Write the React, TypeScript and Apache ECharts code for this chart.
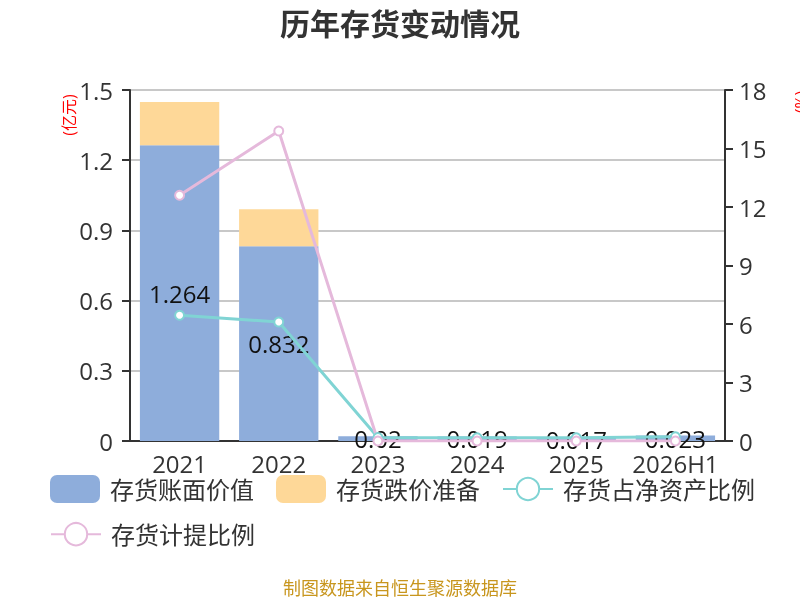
import { useEffect, useRef } from 'react';
import * as echarts from 'echarts';

const years = ['2021', '2022', '2023', '2024', '2025', '2026H1'];
// 亿元
const bookValue = [1.264, 0.832, 0.02, 0.019, 0.017, 0.023];
const provision = [0.185, 0.158, 0, 0, 0, 0];
// %
const netAssetRatio = [6.45, 6.1, 0.18, 0.17, 0.17, 0.22];
const provisionRatio = [12.6, 15.9, 0, 0, 0, 0];

const FONT = '"Open Sans", "Noto Sans CJK SC", sans-serif';
const TEXT = '#333';

export default function App() {
  const ref = useRef<HTMLDivElement | null>(null);

  useEffect(() => {
    if (!ref.current) return;
    const chart = echarts.init(ref.current, undefined, { renderer: 'svg' });

    const legendText = { fontSize: 24, color: TEXT, fontFamily: FONT, padding: [0, 0, 0, 5] };

    chart.setOption({
      animation: false,
      textStyle: { fontFamily: FONT },
      title: {
        text: '历年存货变动情况',
        left: 'center',
        top: 3,
        textStyle: { fontSize: 30, fontWeight: 'bold', color: TEXT, fontFamily: FONT },
      },
      grid: { left: 130, right: 75, top: 90, bottom: 159 },
      legend: [
        {
          left: 50,
          top: 475,
          padding: 0,
          itemWidth: 50,
          itemHeight: 28,
          itemGap: 22,
          textStyle: legendText,
          data: [
            { name: '存货账面价值', icon: 'roundRect' },
            { name: '存货跌价准备', icon: 'roundRect' },
            '存货占净资产比例',
          ],
        },
        {
          left: 50,
          top: 522,
          padding: 0,
          itemWidth: 50,
          itemHeight: 28,
          textStyle: legendText,
          data: ['存货计提比例'],
        },
      ],
      xAxis: {
        type: 'category',
        data: years,
        axisLine: { lineStyle: { color: TEXT, width: 2 } },
        axisTick: { length: 8, lineStyle: { color: TEXT, width: 2 } },
        axisLabel: { fontSize: 24, color: TEXT, margin: 10, interval: 0 },
      },
      yAxis: [
        {
          type: 'value',
          min: 0,
          max: 1.5,
          interval: 0.3,
          axisLine: { show: true, lineStyle: { color: TEXT, width: 2 } },
          axisTick: { show: true, length: 8, lineStyle: { color: TEXT, width: 2 } },
          axisLabel: { fontSize: 24, color: TEXT, margin: 17 },
          splitLine: { lineStyle: { color: '#c8c8c8', width: 2 } },
        },
        {
          type: 'value',
          min: 0,
          max: 18,
          interval: 3,
          axisLine: { show: true, lineStyle: { color: TEXT, width: 2 } },
          axisTick: { show: true, length: 8, lineStyle: { color: TEXT, width: 2 } },
          axisLabel: { fontSize: 24, color: TEXT, margin: 14 },
          splitLine: { show: false },
        },
      ],
      graphic: [
        {
          type: 'text',
          x: 69,
          y: 115,
          rotation: Math.PI / 2,
          style: {
            text: '(亿元)',
            fill: '#ff0000',
            fontSize: 16,
            fontFamily: FONT,
            align: 'center',
            verticalAlign: 'middle',
          },
        },
        {
          type: 'text',
          x: 801,
          y: 102,
          rotation: Math.PI / 2,
          style: {
            text: '(%)',
            fill: '#ff0000',
            fontSize: 16,
            fontFamily: FONT,
            align: 'center',
            verticalAlign: 'middle',
          },
        },
        {
          type: 'text',
          x: 400,
          y: 588,
          style: {
            text: '制图数据来自恒生聚源数据库',
            fill: '#c8961e',
            fontSize: 18,
            fontFamily: FONT,
            align: 'center',
            verticalAlign: 'middle',
          },
        },
      ],
      series: [
        {
          name: '存货账面价值',
          type: 'bar',
          stack: 'inv',
          barWidth: '80%',
          data: bookValue,
          itemStyle: { color: '#8eaddb' },
          label: {
            show: true,
            position: 'inside',
            fontSize: 24,
            color: '#111',
          },
        },
        {
          name: '存货跌价准备',
          type: 'bar',
          stack: 'inv',
          barWidth: '80%',
          data: provision,
          itemStyle: { color: '#fed898' },
        },
        {
          name: '存货占净资产比例',
          type: 'line',
          yAxisIndex: 1,
          data: netAssetRatio,
          symbol: 'emptyCircle',
          symbolSize: 9,
          lineStyle: { color: '#80d4d4', width: 3 },
          itemStyle: { color: '#80d4d4', borderWidth: 2 },
          z: 3,
        },
        {
          name: '存货计提比例',
          type: 'line',
          yAxisIndex: 1,
          data: provisionRatio,
          symbol: 'emptyCircle',
          symbolSize: 9,
          lineStyle: { color: '#e5b9db', width: 3 },
          itemStyle: { color: '#e5b9db', borderWidth: 2 },
          z: 3,
        },
      ],
    });

    return () => chart.dispose();
  }, []);

  return (
    <div
      ref={ref}
      style={{ position: 'fixed', left: 0, top: 0, width: 800, height: 600 }}
    />
  );
}
